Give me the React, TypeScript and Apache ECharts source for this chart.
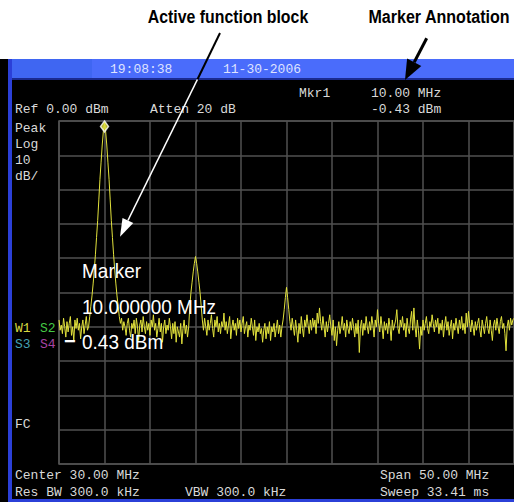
import React, { useEffect, useRef } from "react";
import * as echarts from "echarts";

// Sweep: start frequency and point spacing (MHz)
const START_MHZ = 5;
const STEP_MHZ = 0.125;
// Trace amplitude in dBm, one value per sweep point (5 .. 55 MHz)
const TRACE_DBM = [
  -58, -61, -59.5, -62, -57.5, -60, -63, -58.5, -61.5, -59, -57, -62.5, -60, -64, -58, -60.5,
  -57.5, -61, -59, -63.5, -60, -58, -62, -59.5, -57, -61, -60, -57, -54, -51, -47.5, -43.5,
  -39, -34, -29, -23, -17, -12, -7, -3, -0.43, -3, -7, -12, -17, -23, -29, -34,
  -39, -43.5, -47.5, -51, -54, -57, -59, -57.5, -61, -58.5, -60, -62.5, -59, -57.5, -61, -63,
  -59, -60.5, -58, -62, -57.5, -60, -64, -59.5, -58, -61.5, -57, -60, -62, -58.5, -61, -59,
  -62.5, -58, -60, -56.5, -61, -59, -63, -60.5, -57.5, -61.5, -59, -64.5, -60, -58, -62, -59.5,
  -61, -57.5, -60, -63.5, -59, -62, -58.5, -64.5, -60, -61.5, -63, -59, -65, -60.5, -58, -62,
  -59.5, -63, -60, -54, -50, -47, -44, -41.5, -39.5, -41.5, -44, -47, -50, -54, -58, -61,
  -57.5, -60, -62.5, -58, -61, -59, -56.5, -60.5, -63, -58, -60, -57, -61.5, -59, -62, -58.5,
  -60, -56, -61, -58.5, -62, -59.5, -57, -63.5, -60, -58, -61, -59, -62.5, -57.5, -60.5, -58,
  -61.5, -59, -57, -62, -60, -58.5, -63, -59.5, -61, -57.5, -60, -62.5, -58, -64, -60, -61.5,
  -59, -62, -60.5, -64.5, -61, -59, -63.5, -60, -62, -58.5, -64, -60, -61.5, -59, -63, -60.5,
  -58, -62, -59.5, -63, -60, -58, -55, -51.5, -48.5, -51.5, -55, -58.5, -61, -57.5, -60, -62.5,
  -58, -61, -64.5, -59, -62, -57, -60.5, -63, -58, -60, -56.5, -59.5, -62, -58, -61, -57.5,
  -60, -58, -62, -56, -59, -54.5, -58.5, -61, -57, -60, -63, -58.5, -61.5, -59, -56.5, -60,
  -62.5, -58, -64, -60, -65.5, -61, -58.5, -62, -60, -57, -61, -59, -63, -58, -60.5, -62,
  -58.5, -61, -57.5, -60, -63, -59, -62, -58, -67.5, -60, -58, -62.5, -59, -61, -57, -60,
  -62, -58.5, -61, -57, -59.5, -63, -58, -60, -55, -59, -61.5, -57, -60, -63.5, -58.5, -61,
  -59, -62, -57.5, -60, -64, -58, -61, -59.5, -58, -55, -60.5, -62, -58, -60, -57, -61,
  -59, -63, -57.5, -60.5, -62, -58, -55.5, -61, -54.5, -60, -63, -58, -61, -66.5, -60, -62.5,
  -58, -61, -59, -57, -60.5, -62, -58.5, -60, -56.5, -59, -61.5, -58, -60, -57.5, -62, -59,
  -61, -58, -63, -59.5, -57, -61, -58.5, -62.5, -60, -58, -63.5, -59, -61, -57.5, -60, -62,
  -58, -60.5, -57, -61, -59, -62, -56, -60, -55.5, -59, -61.5, -58, -60, -62.5, -58.5, -61,
  -59, -57.5, -61, -63, -58, -60, -62, -59, -57, -60.5, -62, -58, -61, -64, -59.5, -58,
  -61, -57.5, -60, -62, -58.5, -57, -60.5, -59, -62, -67, -60, -58, -61, -57.5, -59.5, -58,
  -57.5,
];
const MARKER_MHZ = [10];
const MARKER_DBM = [-0.43];

// Display scale
const FREQ_MIN = 5;
const FREQ_MAX = 55;
const FREQ_DIV = 5;
const REF_DBM = 0;
const BOTTOM_DBM = -100;
const DB_DIV = 10;

// Screen annotations
const HEADER_TIME = "19:08:38";
const HEADER_DATE = "11-30-2006";
const CALLOUTS = ["Active function block", "Marker Annotation"];
const ACTIVE_LINES = ["Marker", "10.000000 MHz", "0.43 dBm"];

const MONO = "13px 'Liberation Mono', 'DejaVu Sans Mono', monospace";
const TXT = "#d9d9d9";

function mono(text: string, x: number, y: number, fill: string = TXT) {
  return {
    type: "text",
    x,
    y,
    z: 100,
    silent: true,
    style: { text, font: MONO, fill, textVerticalAlign: "middle" },
  };
}

export default function App() {
  const ref = useRef<HTMLDivElement>(null);

  useEffect(() => {
    if (!ref.current) return;
    const chart = echarts.init(ref.current, undefined, { renderer: "svg" });

    const trace = TRACE_DBM.map((v, i) => [START_MHZ + i * STEP_MHZ, v]);
    const marker = MARKER_MHZ.map((f, i) => [f, MARKER_DBM[i]]);

    const bigFont = "20px 'Liberation Sans', Arial, sans-serif";
    const calloutFont = "bold 19px 'Liberation Sans', Arial, sans-serif";

    const big = (text: string, x: number, y: number) => ({
      type: "text",
      x,
      y,
      z: 100,
      scaleX: 0.95,
      silent: true,
      style: { text, font: bigFont, fill: "#ffffff", textVerticalAlign: "middle" },
    });

    const graphic: any[] = [
      // white paper above the screen
      { type: "rect", shape: { x: 0, y: 0, width: 514, height: 59 }, style: { fill: "#ffffff" }, z: 0, silent: true },
      // blue title bar
      { type: "rect", shape: { x: 8, y: 59, width: 506, height: 20 }, style: { fill: "#4a6cfb" }, z: 1, silent: true },
      { type: "rect", shape: { x: 9, y: 59, width: 83, height: 20 }, style: { fill: "#3f66f2" }, z: 1, silent: true },
      { type: "rect", shape: { x: 8, y: 78, width: 506, height: 2 }, style: { fill: "#1a2a90" }, z: 1, silent: true },
      // left and bottom blue frame
      { type: "rect", shape: { x: 8, y: 59, width: 4, height: 443 }, style: { fill: "#2b40d8" }, z: 1, silent: true },
      { type: "rect", shape: { x: 8, y: 499, width: 506, height: 3 }, style: { fill: "#2b40d8" }, z: 1, silent: true },

      { type: "text", x: 110, y: 69, z: 100, silent: true, style: { text: HEADER_TIME, font: MONO, fill: "#dfe3ff", textVerticalAlign: "middle" } },
      { type: "text", x: 223, y: 69, z: 100, silent: true, style: { text: HEADER_DATE, font: MONO, fill: "#dfe3ff", textVerticalAlign: "middle" } },

      mono("Mkr1", 299, 93),
      mono("10.00 MHz", 371, 93),
      mono("Ref 0.00 dBm", 15, 109),
      mono("Atten 20 dB", 150, 109),
      mono("-0.43 dBm", 371, 109),
      mono("Peak", 15, 128),
      mono("Log", 15, 144),
      mono("10", 15, 160),
      mono("dB/", 15, 176),
      mono("W1", 15, 328, "#d8d840"),
      mono("S2", 40, 328, "#44c844"),
      mono("S3", 15, 344, "#44a0b4"),
      mono("S4", 40, 344, "#a844a4"),
      mono("FC", 15, 424),
      mono("Center 30.00 MHz", 15, 475),
      mono("Res BW 300.0 kHz", 15, 492),
      mono("VBW 300.0 kHz", 185, 492),
      mono("Span 50.00 MHz", 380, 475),
      mono("Sweep 33.41 ms", 380, 492),

      // active function block (large white text)
      big(ACTIVE_LINES[0], 82, 271),
      big(ACTIVE_LINES[1], 82, 306.5),
      { type: "text", x: 64, y: 341, z: 100, silent: true, style: { text: "\u2212", font: "bold 20px 'Liberation Sans', Arial, sans-serif", fill: "#ffffff", textVerticalAlign: "middle" } },
      big(ACTIVE_LINES[2], 82, 341.5),

      // callout labels (condensed bold)
      { type: "text", x: 228, y: 16.5, z: 100, scaleX: 0.835, silent: true, style: { text: CALLOUTS[0], font: calloutFont, fill: "#000000", textAlign: "center", textVerticalAlign: "middle" } },
      { type: "text", x: 439, y: 16.5, z: 100, scaleX: 0.845, silent: true, style: { text: CALLOUTS[1], font: calloutFont, fill: "#000000", textAlign: "center", textVerticalAlign: "middle" } },

      // arrow to active function block: black above the screen, white inside
      { type: "line", z: 100, silent: true, shape: { x1: 220, y1: 33, x2: 197.4, y2: 79.5 }, style: { stroke: "#000000", lineWidth: 2 } },
      { type: "line", z: 100, silent: true, shape: { x1: 197.4, y1: 79.5, x2: 127.9, y2: 220.5 }, style: { stroke: "#ffffff", lineWidth: 1.6 } },
      { type: "polygon", z: 100, silent: true, shape: { points: [[120, 236.7], [133.3, 223.1], [122.5, 217.9]] }, style: { fill: "#ffffff" } },

      // arrow to marker annotation
      { type: "line", z: 100, silent: true, shape: { x1: 426.7, y1: 38.3, x2: 414.2, y2: 62.3 }, style: { stroke: "#000000", lineWidth: 3 } },
      { type: "polygon", z: 100, silent: true, shape: { points: [[405, 80], [421.3, 66], [407.1, 58.6]] }, style: { fill: "#000000" } },
    ];

    const splitStyle = { color: "#505050", width: 1.5 };

    chart.setOption({
      animation: false,
      backgroundColor: "#000000",
      grid: {
        left: 59,
        top: 121,
        width: 457,
        height: 343,
        show: true,
        borderColor: "#505050",
        borderWidth: 1.5,
        backgroundColor: "transparent",
      },
      xAxis: {
        type: "value",
        min: FREQ_MIN,
        max: FREQ_MAX,
        interval: FREQ_DIV,
        axisLabel: { show: false },
        axisTick: { show: false },
        axisLine: { show: false },
        splitLine: { show: true, lineStyle: splitStyle },
      },
      yAxis: {
        type: "value",
        min: BOTTOM_DBM,
        max: REF_DBM,
        interval: DB_DIV,
        axisLabel: { show: false },
        axisTick: { show: false },
        axisLine: { show: false },
        splitLine: { show: true, lineStyle: splitStyle },
      },
      series: [
        {
          type: "line",
          data: trace,
          symbol: "none",
          showSymbol: false,
          silent: true,
          lineStyle: { color: "#e2e23c", width: 1 },
          z: 3,
        },
        {
          type: "scatter",
          data: marker,
          symbol: "diamond",
          symbolSize: [8, 11],
          symbolOffset: [0, 4],
          silent: true,
          itemStyle: { color: "#e2e23c", borderColor: "#ffffff", borderWidth: 1.5 },
          z: 4,
        },
      ],
      graphic,
    });

    return () => chart.dispose();
  }, []);

  return (
    <div
      ref={ref}
      style={{ position: "fixed", left: 0, top: 0, width: 514, height: 502 }}
    />
  );
}
